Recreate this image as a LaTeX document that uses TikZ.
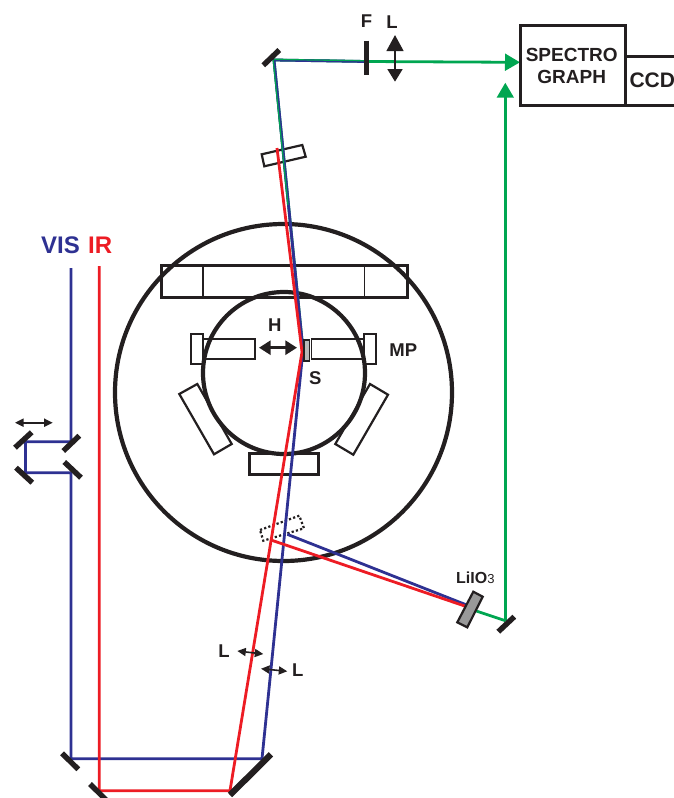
\documentclass[tikz,border=0pt]{standalone}
\usepackage{fontspec}
\setmainfont{Liberation Sans}
\usetikzlibrary{arrows.meta}
\definecolor{vis}{HTML}{2E3192}
\definecolor{ir}{HTML}{ED1C24}
\definecolor{grn}{HTML}{00A651}
\definecolor{ink}{HTML}{231F20}
\newcommand{\fs}[1]{\fontsize{#1}{#1}\selectfont\bfseries}
\tikzset{
  beam/.style={line width=2.8pt,line join=miter},
  visbeam/.style={beam,draw=vis},
  irbeam/.style={beam,draw=ir},
  greenbeam/.style={beam,draw=grn},
  mirror/.style={draw=ink,line width=5.4pt},
  box/.style={draw=ink,line width=3pt,line join=miter},
  thinbox/.style={draw=ink,line width=1.4pt,line join=miter},
  medbox/.style={draw=ink,line width=2.2pt,line join=miter},
  chamber/.style={draw=ink,line width=4.2pt},
  label/.style={inner sep=0pt,text=ink},
  smallarrow/.style={draw=ink,line width=1.6pt,{Triangle[length=8.5pt,width=8pt]}-{Triangle[length=8.5pt,width=8pt]}},
  bigarrow/.style={draw=ink,line width=3.2pt,{Triangle[length=11.7pt,width=14pt]}-{Triangle[length=11.7pt,width=14pt]}},
  greenhead/.style={greenbeam,-{Triangle[length=15pt,width=16.7pt]}},
}
\begin{document}
\begin{tikzpicture}[x=1pt,y=-1pt]
\clip (0,0) rectangle (674,798);
\useasboundingbox (0,0) rectangle (674,798);
% named beam points
\coordinate (topM) at (274,60);
\coordinate (S0) at (303,350);
\coordinate (Sred) at (302,352);
\coordinate (irEnd) at (277,148);
\coordinate (bigMv) at (262,758.7);
\coordinate (bigMr) at (230,790.7);
\coordinate (specIn) at (520,62.3);
\coordinate (filt) at (366.7,61.5);
\coordinate (lowM) at (505.3,620.7);
\coordinate (cryOut) at (473.3,610);
\coordinate (specUp) at (505.3,82.7);
% chamber
\draw[chamber] (283.5,392.5) circle (168.5);
\draw[box] (161,265) rectangle (407,297);
\draw[thinbox] (203,265) -- (203,297) (364.5,265) -- (364.5,297);
\draw[chamber] (284,373) circle (81);
\draw[thinbox] (191,334) rectangle (203,364);
\draw[thinbox] (203,339) rectangle (255,359);
\draw[thinbox] (364,334) rectangle (376,364);
\draw[thinbox] (311.5,339) rectangle (364,359);
\draw[box] (249,453) rectangle (318,474);
\draw[medbox] (179.3,394) -- (197.3,384) -- (231.7,444) -- (214,454.3) -- cycle;
\draw[medbox] (370,384) -- (388,394.7) -- (353.3,454.7) -- (335.3,444) -- cycle;
% upper small plate
\draw[medbox] (261.7,154.3) -- (302.3,145) -- (305.7,156.7) -- (264.3,166.3) -- cycle;
% dotted plate
\draw[draw=ink,line width=2.2pt,dash pattern=on 2.2pt off 2.2pt] (260,530) -- (299.3,515.7) -- (304,528.3) -- (263.3,540.7) -- cycle;
% green beams
\draw[greenbeam] (topM) -- (S0);
\draw[greenbeam] (topM) -- (filt);
\draw[greenhead] (filt) -- (specIn);
\draw[greenbeam] (cryOut) -- (lowM);
\draw[greenhead] (lowM) -- (specUp);
% visible beam
\draw[visbeam] (71,268) -- (71,441.7) -- (25.5,441.7) -- (25.5,472.7) -- (71,472.7) -- (71,758.7) -- (bigMv) -- (S0) -- (topM) -- (filt);
\draw[visbeam] (287.3,534.3) -- (466.7,605);
% IR beam
\draw[irbeam] (99.3,266) -- (99.3,790.7) -- (bigMr) -- (Sred) -- (irEnd);
\draw[irbeam] (271,540) -- (466.7,606.7);
% green over the blue near the top mirror
\draw[draw=grn,line width=1.2pt] (273.2,60) -- (288,205);
\draw[draw=grn,line width=1.2pt] (274,59.4) -- (366.7,60.8);
% sample
\draw[thinbox,fill=black!28] (304,340) rectangle (309.3,361);
% mirrors
\draw[mirror] (263.3,65.3) -- (279.3,50);
\draw[mirror] (15,447.7) -- (31.7,432.3);
\draw[mirror] (63.3,451) -- (79.3,435.7);
\draw[mirror] (16,467.7) -- (32.3,482.7);
\draw[mirror] (64.3,462) -- (81,477.7);
\draw[mirror] (62,753.3) -- (78.3,769.3);
\draw[mirror] (90,784) -- (106.7,800.5);
\draw[mirror,line width=6.2pt] (230,795) -- (271,754.3);
\draw[mirror] (498.3,631.7) -- (514.3,616.7);
\draw[draw=ink,line width=5.4pt] (366.7,40.7) -- (366.7,75.3);
% crystal
\draw[medbox,fill=black!40] (473.3,591.7) -- (482.7,596.7) -- (467.3,627.3) -- (457.3,622.3) -- cycle;
% motion arrows
\coordinate (lensT) at (395,35);
\coordinate (lensB) at (395,81.7);
\draw[draw=ink,line width=2.2pt,{Triangle[length=16pt,width=16.7pt]}-{Triangle[length=12.5pt,width=14.7pt]}] (lensT) -- (lensB);
\coordinate (hL) at (259,347.7);
\coordinate (hR) at (297,347.7);
\draw[bigarrow] (hL) -- (hR);
\coordinate (dL) at (15,422.7);
\coordinate (dR) at (52.7,422.7);
\draw[smallarrow] (dL) -- (dR);
\coordinate (l1a) at (237.3,651);
\coordinate (l1b) at (263.3,654);
\draw[smallarrow] (l1a) -- (l1b);
\coordinate (l2a) at (261,668.7);
\coordinate (l2b) at (287.3,671.3);
\draw[smallarrow] (l2a) -- (l2b);
% spectrograph and CCD
\draw[box] (520.3,25) rectangle (625,105.3);
\draw[box] (625,56.7) -- (680,56.7) (625,105.3) -- (680,105.3);
% labels
\node[label] (tSpec) at (571.7,55) {\fs{19}SPECTRO};
\node[label] (tGraph) at (571.7,76.5) {\fs{19}GRAPH};
\node[label,anchor=west] (tCCD) at (629.3,80.5) {\fs{21}CCD};
\node[label] (tF) at (366.5,21) {\fs{18.5}F};
\node[label] (tL) at (392,22) {\fs{18.5}L};
\node[label] (tH) at (274.7,325.3) {\fs{18.5}H};
\node[label] (tS) at (315.3,378.3) {\fs{18.5}S};
\node[label] (tMP) at (403.3,350) {\fs{18.5}MP};
\node[label] (tL1) at (224,650.7) {\fs{18.5}L};
\node[label] (tL2) at (297.7,670) {\fs{18.5}L};
\node[label,anchor=west] (tLi) at (456,577.7) {\fs{16}LiIO{\fontsize{13}{13}\selectfont\mdseries 3}};
\node[label,text=vis,anchor=west] (tVis) at (41,245) {\fs{24}VIS};
\node[label,text=ir,anchor=west] (tIR) at (88,245) {\fs{24}IR};
\end{tikzpicture}
\end{document}
